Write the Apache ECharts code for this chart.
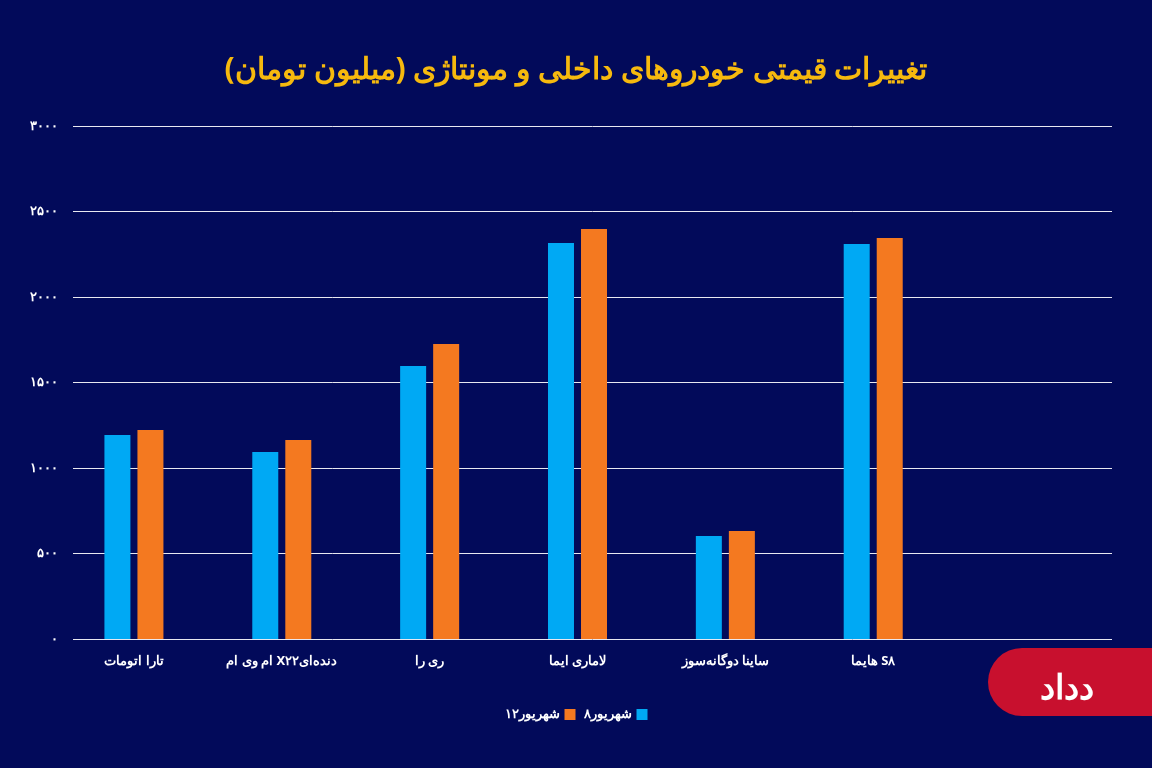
<!DOCTYPE html><html><head><meta charset="utf-8"><script src="https://cdn.jsdelivr.net/npm/echarts@6/dist/echarts.min.js"></script>
<style>html,body{margin:0;background:#020a5a}#c{width:1152px;height:768px}</style></head><body><div id="c"></div><script>
const categories=['تارا اتومات','ام وی ام X۲۲دنده‌ای','ری را','لاماری ایما','ساینا دوگانه‌سوز','هایما S۸',''];
const s8=[1193,1094,1596,2316,602,2310,null];
const s12=[1222,1164,1725,2398,632,2345,null];
const yTicks={0:'۰',500:'۵۰۰',1000:'۱۰۰۰',1500:'۱۵۰۰',2000:'۲۰۰۰',2500:'۲۵۰۰',3000:'۳۰۰۰'};
const F='"Noto Sans", sans-serif';
const ch=echarts.init(document.getElementById('c'));
ch.setOption({backgroundColor:'#020a5a',
title:{text:'تغییرات قیمتی خودروهای داخلی و مونتاژی (میلیون تومان)',left:'center',top:50,textStyle:{color:'#f6b90e',fontSize:30,fontWeight:'bold',fontFamily:F}},
legend:{data:['۱۲شهریور','۸شهریور'],bottom:42,left:'center',align:'right',itemWidth:11,itemHeight:11,icon:'rect',textStyle:{color:'#fff',fontSize:13,fontWeight:'bold',fontFamily:F}},
grid:[{left:73,right:40,top:126,bottom:129},{left:60,right:57,top:126,bottom:129}],
xAxis:[{type:'category',gridIndex:0,data:categories,show:false},
{type:'category',gridIndex:1,data:categories,axisLine:{show:false},axisTick:{show:false},axisLabel:{color:'#fff',fontSize:13,fontWeight:'bold',fontFamily:F,margin:16}}],
yAxis:[{type:'value',gridIndex:0,min:0,max:3000,interval:500,axisLabel:{color:'#fff',fontSize:13,fontWeight:'bold',fontFamily:F,margin:15,formatter:v=>yTicks[v]},splitLine:{lineStyle:{color:'#e8e8f0',width:1}}},
{type:'value',gridIndex:1,min:0,max:3000,interval:500,show:false,splitLine:{show:false}}],
graphic:[{type:'rect',shape:{x:988,y:648,width:200,height:68,r:34},style:{fill:'#c8102e'}},
{type:'text',style:{x:1040,y:672,text:'ﺩﺩﺍﺩ',fill:'#fff',font:'bold 34px "Noto Sans"'}}],
series:[{name:'۸شهریور',type:'bar',xAxisIndex:1,yAxisIndex:1,data:s8,barWidth:26,barGap:'27%',itemStyle:{color:'#00a9f4'}},
{name:'۱۲شهریور',type:'bar',xAxisIndex:1,yAxisIndex:1,data:s12,barWidth:26,itemStyle:{color:'#f47920'}}]});
</script></body></html>
